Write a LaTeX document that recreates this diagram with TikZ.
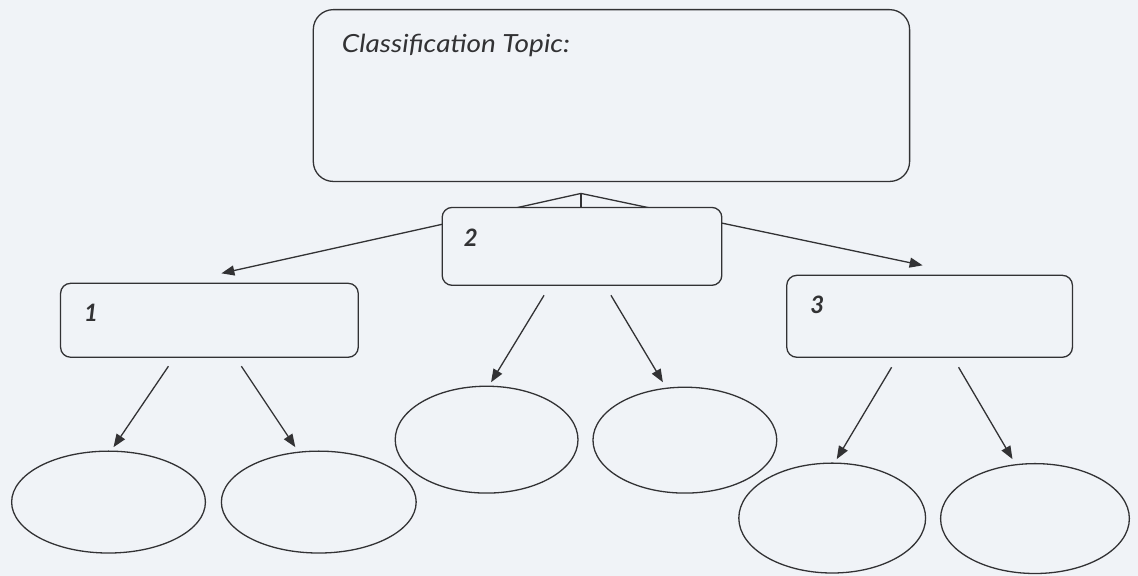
\documentclass[tikz,border=0pt]{standalone}
\usepackage{fontspec}
\newfontfamily\handfont{Lato}
\newfontfamily\handwide{Lato}[FakeStretch=1.12]
\usetikzlibrary{arrows.meta,shapes.geometric}
\definecolor{paper}{RGB}{240,243,247}
\definecolor{ink}{RGB}{50,50,52}
\tikzset{
  every path/.style={line width=1.3pt, draw=ink},
  rbox/.style={draw=ink, fill=paper, rounded corners=10pt, minimum width=#1, inner sep=0pt},
  oval/.style={ellipse, draw=ink, fill=paper, inner sep=0pt},
  arr/.style={-{Triangle[length=13pt,width=10pt]}, draw=ink},
  tline/.style={draw=ink},
  lbl/.style={anchor=base west, inner sep=0pt, text=ink, font=\handwide\itshape\fontsize{25}{27}\selectfont},
  num/.style={anchor=base west, inner sep=0pt, text=ink, font=\handfont\bfseries\itshape\fontsize{24}{26}\selectfont},
}
\begin{document}
\begin{tikzpicture}[x=1pt,y=-1pt]
\useasboundingbox (0,0) rectangle (1138,575);
\fill[paper] (0,0) rectangle (1138,575);
% top box
\node[rbox=597pt, minimum height=172pt, rounded corners=20pt] (topic) at (611.5,95) {};
\node[lbl] (topiclbl) at (341,52) {Classification Topic:};
% connectors from the top box
\coordinate (apex) at (581,193);
\coordinate (tipL) at (221,273);
\coordinate (tipR) at (923,265);
\draw[arr] (apex) -- (tipL);
\draw[arr] (apex) -- (tipR);
% box 2 on top of the lines
\node[rbox=280pt, minimum height=78pt] (b2) at (582,246) {};
\draw[tline] (apex) -- (apex |- b2.north);
\node[num] (n2) at (463,246) {2};
% boxes 1 and 3
\node[rbox=298pt, minimum height=74pt] (b1) at (209,320) {};
\node[num] (n1) at (83,321) {1};
\node[rbox=286pt, minimum height=82pt] (b3) at (930,316) {};
\node[num] (n3) at (810,313) {3};
% ellipses
\node[oval, minimum width=194pt, minimum height=102pt] (e1a) at (108,502) {};
\node[oval, minimum width=195pt, minimum height=102pt] (e1b) at (318.5,502) {};
\node[oval, minimum width=183pt, minimum height=107pt] (e2a) at (486.5,439.5) {};
\node[oval, minimum width=184pt, minimum height=106pt] (e2b) at (685,440) {};
\node[oval, minimum width=187pt, minimum height=110pt] (e3a) at (832.5,518) {};
\node[oval, minimum width=189pt, minimum height=110pt] (e3b) at (1035.5,518.5) {};
% arrow coordinates
\coordinate (s1a) at (168,366); \coordinate (t1a) at (113,447);
\coordinate (s1b) at (241,366); \coordinate (t1b) at (295,447);
\coordinate (s2a) at (544,295); \coordinate (t2a) at (491,382);
\coordinate (s2b) at (611,295); \coordinate (t2b) at (663,382);
\coordinate (s3a) at (892,367); \coordinate (t3a) at (837,459);
\coordinate (s3b) at (959,367); \coordinate (t3b) at (1013,459);
\draw[arr] (s1a) -- (t1a);
\draw[arr] (s1b) -- (t1b);
\draw[arr] (s2a) -- (t2a);
\draw[arr] (s2b) -- (t2b);
\draw[arr] (s3a) -- (t3a);
\draw[arr] (s3b) -- (t3b);
\end{tikzpicture}
\end{document}
